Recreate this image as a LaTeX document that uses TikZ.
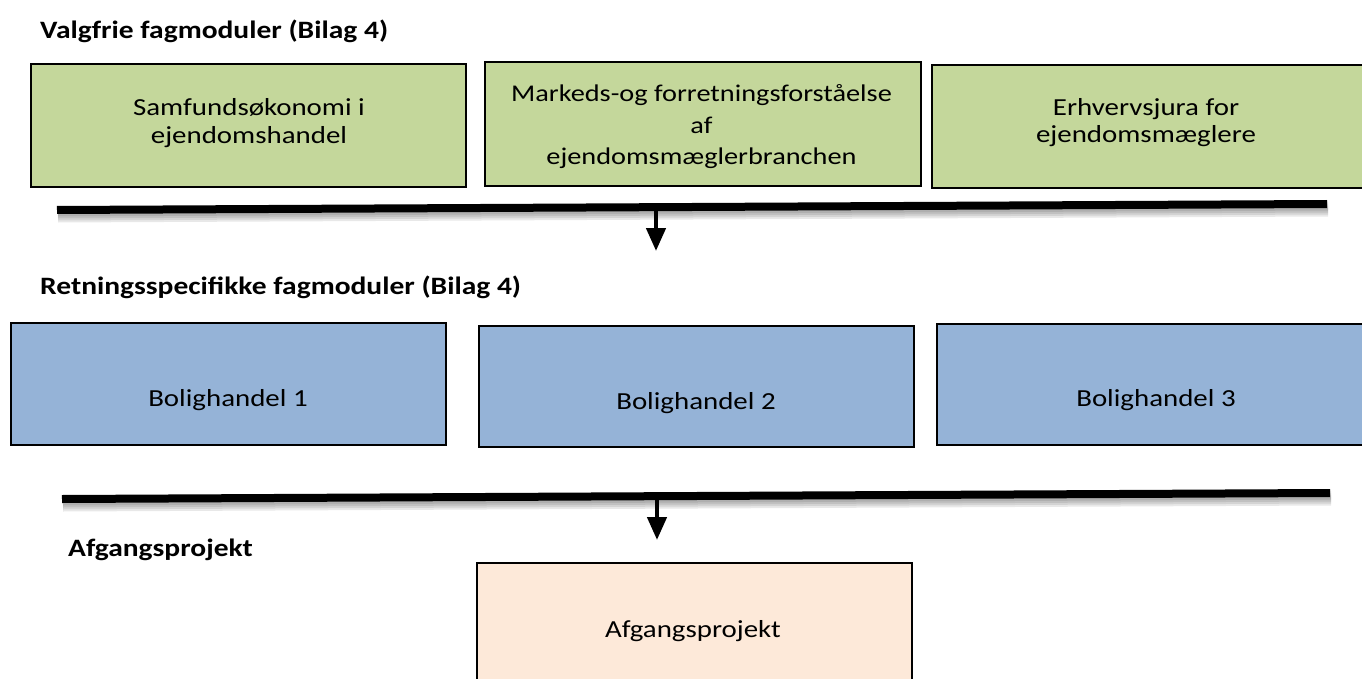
\documentclass[tikz,border=0pt]{standalone}
\usepackage{fontspec}
\setmainfont{Carlito}[FakeStretch=1.18]
\usetikzlibrary{arrows.meta}
\definecolor{gfill}{HTML}{C4D79B}
\definecolor{bfill}{HTML}{95B3D7}
\definecolor{pfill}{HTML}{FDE9D9}
\begin{document}
\begin{tikzpicture}[x=1pt,y=-1pt,
  box/.style={draw=black, line width=1.6pt, inner sep=0pt, outer sep=0pt},
  lbl/.style={anchor=base, inner sep=0pt, font=\fontsize{24.5}{29}\selectfont},
  lblsmall/.style={lbl, font=\fontsize{24}{29}\selectfont},
  ttl/.style={anchor=base west, inner sep=0pt, font=\fontsize{25}{29}\selectfont\bfseries},
  bar/.style={line width=8pt, black},
  barshadow/.style={line width=9pt, black, opacity=0.09},
  arr/.style={line width=4.5pt, -{Triangle[width=19pt,length=23pt]}},
]
\useasboundingbox (0,0) rectangle (1362,679);
\clip (0,0) rectangle (1362,679);

% titles
\node[ttl] (t1) at (40,39) {Valgfrie fagmoduler (Bilag 4)};
\node[ttl] (t2) at (40,294) {Retningsspecifikke fagmoduler (Bilag 4)};
\node[ttl] (t3) at (68,556) {Afgangsprojekt};

% green boxes
\node[box, fill=gfill, minimum width=435pt, minimum height=123pt] (g1) at (248.5,125.5) {};
\node[box, fill=gfill, minimum width=436pt, minimum height=124pt] (g2) at (703,124) {};
\node[box, fill=gfill, minimum width=448pt, minimum height=123pt] (g3) at (1156,126.5) {};
\node[lbl] (g1a) at (249,116) {Samfundsøkonomi i};
\node[lbl] (g1b) at (249,144) {ejendomshandel};
\node[lblsmall] (g2a) at (701.5,102) {Markeds-og forretningsforståelse};
\node[lblsmall] (g2b) at (701.5,134) {af};
\node[lblsmall] (g2c) at (701.5,165) {ejendomsmæglerbranchen};
\node[lbl] (g3a) at (1146,116) {Erhvervsjura for};
\node[lbl] (g3b) at (1146,143) {ejendomsmæglere};

% blue boxes
\node[box, fill=bfill, minimum width=435pt, minimum height=122pt] (b1) at (228.5,384) {};
\node[box, fill=bfill, minimum width=435pt, minimum height=121pt] (b2) at (696.5,386.5) {};
\node[box, fill=bfill, minimum width=443pt, minimum height=121pt] (b3) at (1158.5,384.5) {};
\node[lbl] (b1t) at (228,406) {Bolighandel 1};
\node[lbl] (b2t) at (696,409) {Bolighandel 2};
\node[lbl] (b3t) at (1156,406) {Bolighandel 3};

% peach box
\node[box, fill=pfill, minimum width=435pt, minimum height=137pt] (p1) at (694.5,631.5) {};
\node[lbl] (p1t) at (693,637) {Afgangsprojekt};

% bars and arrows
\coordinate (L1a) at (57,210);
\coordinate (L1b) at (1327,204);
\coordinate (A1s) at (656,207);
\coordinate (A1e) at (656,251);
\coordinate (L2a) at (62,499);
\coordinate (L2b) at (1330,493);
\coordinate (A2s) at (657,496);
\coordinate (A2e) at (657,540);

\foreach \d in {2,4,6,8}{
  \draw[barshadow, transform canvas={shift={(1pt,-\d pt)}}] (L1a) -- (L1b);
  \draw[barshadow, transform canvas={shift={(1pt,-\d pt)}}] (L2a) -- (L2b);
}
\draw[bar] (L1a) -- (L1b);
\draw[arr] (A1s) -- (A1e);
\draw[bar] (L2a) -- (L2b);
\draw[arr] (A2s) -- (A2e);
\end{tikzpicture}
\end{document}
